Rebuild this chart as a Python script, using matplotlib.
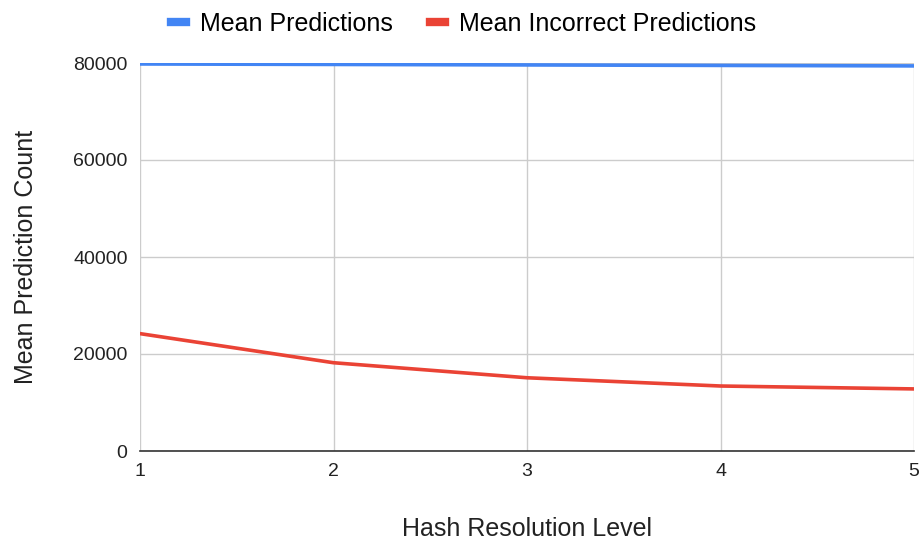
import matplotlib.pyplot as plt

plt.rcParams['font.family'] = ['Liberation Sans', 'DejaVu Sans']

# data
levels = [1, 2, 3, 4, 5]
meanPredictions = [79800, 79700, 79600, 79500, 79400]
meanIncorrect = [24200, 18200, 15100, 13400, 12800]

fig = plt.figure(figsize=(9.24, 5.48), dpi=100)
ax = fig.add_axes([140 / 924, 1 - 451 / 548, 774 / 924, 388 / 548])

ax.plot(levels, meanPredictions, color='#4285f4', lw=2.6, label='Mean Predictions')
ax.plot(levels, meanIncorrect, color='#ea4335', lw=2.6, label='Mean Incorrect Predictions')

ax.set_xlim(1, 5)
ax.set_ylim(0, 80000)
ax.set_xticks(levels)
ax.set_yticks([0, 20000, 40000, 60000, 80000])
ax.grid(True, color='#cccccc', lw=1)
ax.set_axisbelow(True)
for side in ['top', 'right', 'left']:
    ax.spines[side].set_visible(False)
ax.spines['bottom'].set_color('#333333')
ax.spines['bottom'].set_linewidth(1.2)
ax.tick_params(length=0, labelsize=14, colors='#222222', pad=9)

ax.set_xlabel('Hash Resolution Level', fontsize=18, color='#222222', labelpad=26)
ax.set_ylabel('Mean Prediction Count', fontsize=18, color='#222222', labelpad=25)

leg = fig.legend(loc='upper center', bbox_to_anchor=(0.502, 1.02), ncol=2, frameon=False,
                 fontsize=18, handlelength=0.6, handletextpad=0.55, columnspacing=1.5)
for line in leg.get_lines():
    line.set_linewidth(6)

fig.savefig('out.png', dpi=100)
